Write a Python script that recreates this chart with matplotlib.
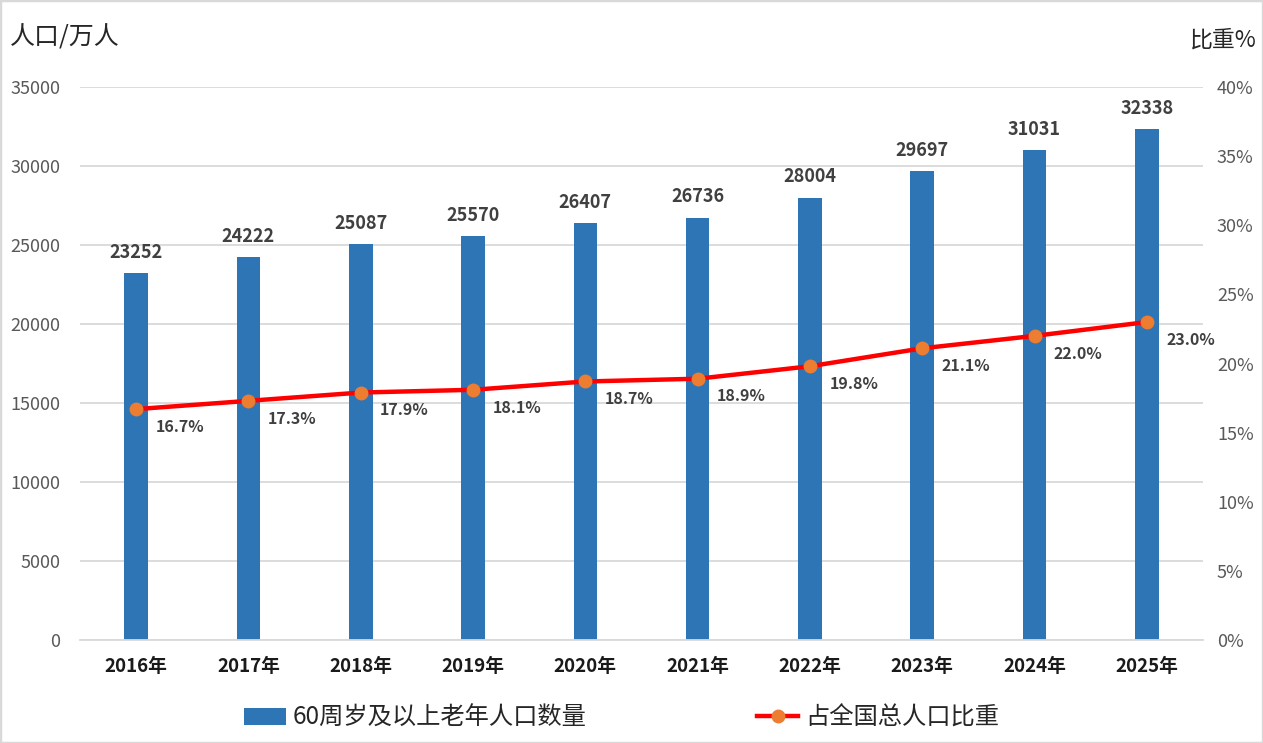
import matplotlib
matplotlib.use("Agg")
import matplotlib.pyplot as plt
from matplotlib.ticker import FuncFormatter
from matplotlib.lines import Line2D
from matplotlib.patches import Patch
import numpy as np

plt.rcParams['font.family'] = ['Noto Sans CJK SC', 'DejaVu Sans']

# ---- data ----
years = ['2016年', '2017年', '2018年', '2019年', '2020年',
         '2021年', '2022年', '2023年', '2024年', '2025年']
elderly = [23252, 24222, 25087, 25570, 26407, 26736, 28004, 29697, 31031, 32338]
share = [16.7, 17.3, 17.9, 18.1, 18.7, 18.9, 19.8, 21.1, 22.0, 23.0]

bar_name = '60周岁及以上老年人口数量'
line_name = '占全国总人口比重'

bar_color = '#2E75B6'
line_color = '#FF0000'
dot_color = '#ED7D31'
grid_color = '#D9D9D9'
tick_color = '#595959'
label_color = '#404040'

# ---- figure ----
fig = plt.figure(figsize=(12.63, 7.43), dpi=100)
ax = fig.add_axes([0.0633, 0.1386, 0.8892, 0.7443])
ax2 = ax.twinx()

x = np.arange(len(years))
ax.bar(x, elderly, width=0.21, color=bar_color, zorder=2)
ax.set_xlim(-0.5, len(years) - 0.5)
ax.set_ylim(0, 35000)
ax.set_yticks(range(0, 35001, 5000))
ax.yaxis.grid(True, color=grid_color, linewidth=1.3, zorder=0)
ax.set_axisbelow(True)

for s in ['top', 'right', 'left']:
    ax.spines[s].set_visible(False)
    ax2.spines[s].set_visible(False)
ax2.spines['bottom'].set_visible(False)
ax.spines['bottom'].set_color(grid_color)
ax.spines['bottom'].set_linewidth(1.3)

ax.tick_params(axis='y', length=0, labelsize=13, labelcolor=tick_color, pad=14)
ax.tick_params(axis='x', length=0, pad=12)
ax.set_xticks(x)
ax.set_xticklabels(years, fontsize=13.5, fontweight='bold', color='#1a1a1a')

for xi, v in zip(x, elderly):
    ax.annotate(str(v), (xi, v), xytext=(0, 8), textcoords='offset points',
                ha='center', va='bottom', fontsize=13, fontweight='bold',
                color=label_color)

# ---- line on right axis ----
ax2.plot(x, share, color=line_color, linewidth=3.2, zorder=3)
ax2.plot(x, share, linestyle='none', marker='o', markersize=9,
         color=dot_color, zorder=4)
ax2.set_ylim(0, 40)
ax2.set_yticks(range(0, 41, 5))
ax2.yaxis.set_major_formatter(FuncFormatter(lambda v, p: f'{int(v)}%'))
ax2.tick_params(axis='y', length=0, labelsize=13, labelcolor=tick_color, pad=10)

for xi, v in zip(x, share):
    ax2.annotate(f'{v:.1f}%', (xi, v), xytext=(14, -7), textcoords='offset points',
                 ha='left', va='top', fontsize=11.5, fontweight='bold',
                 color=label_color)

# ---- axis titles ----
fig.text(0.008, 0.950, '人口/万人', fontsize=18, color='#262626', ha='left', va='center')
fig.text(0.995, 0.946, '比重%', fontsize=16.5, color='#262626', ha='right', va='center')

# ---- legend ----
handles = [Patch(facecolor=bar_color, edgecolor='none'),
           Line2D([0], [0], color=line_color, linewidth=3.2, marker='o',
                  markersize=9, markerfacecolor=dot_color, markeredgecolor=dot_color)]
fig.legend(handles, [bar_name, line_name], loc='center', bbox_to_anchor=(0.4925, 0.034),
           ncol=2, frameon=False, fontsize=17.5, columnspacing=7.0,
           handlelength=1.7, handletextpad=0.3, labelcolor='#262626')

# figure border
fig.patches.append(plt.Rectangle((0, 0), 1, 1, transform=fig.transFigure,
                                 fill=False, edgecolor='#D9D9D9', linewidth=2.5))

fig.savefig('out.png', dpi=100)
